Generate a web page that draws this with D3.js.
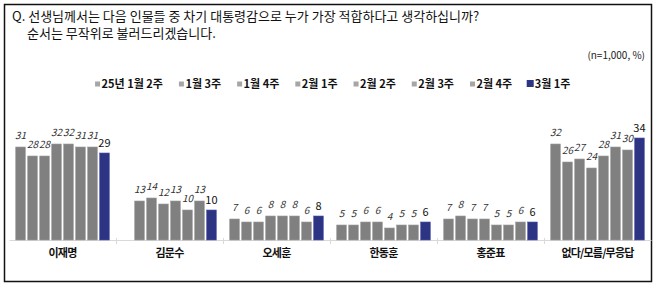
<!DOCTYPE html>
<html>
<head>
<meta charset="utf-8">
<script src="https://cdn.jsdelivr.net/npm/d3@7"></script>
<style>
  body { margin: 0; background: #fff; }
  svg { font-family: "Noto Sans CJK KR", "Noto Sans", sans-serif; }
</style>
</head>
<body>
<div id="chart"></div>
<script>
var categories = ["이재명", "김문수", "오세훈", "한동훈", "홍준표", "없다/모름/무응답"];
var series = ["25년 1월 2주", "1월 3주", "1월 4주", "2월 1주", "2월 2주", "2월 3주", "2월 4주", "3월 1주"];
var values = [
    [31, 28, 28, 32, 32, 31, 31, 29],
    [null, 13, 14, 12, 13, 10, 13, 10],
    [7, 6, 6, 8, 8, 8, 6, 8],
    [5, 5, 6, 6, 4, 5, 5, 6],
    [7, 8, 7, 7, 5, 5, 6, 6],
    [32, 26, 27, 24, 28, 31, 30, 34]
];
var titleLines = ["Q. 선생님께서는 다음 인물들 중 차기 대통령감으로 누가 가장 적합하다고 생각하십니까?", "순서는 무작위로 불러드리겠습니다."];
var note = "(n=1,000,  %)";

var width = 658;
var height = 288;
var grey = "#808080";
var blue = "#2d3484";

var svg = d3.select("#chart")
    .append("svg")
    .attr("width", width)
    .attr("height", height);

// frame
svg.append("rect")
    .attr("x", 4.5).attr("y", 4.5)
    .attr("width", 647).attr("height", 277)
    .attr("fill", "none")
    .attr("stroke", "#111")
    .attr("stroke-width", 1.5);

svg.append("text")
    .attr("x", 12).attr("y", 20.5)
    .attr("font-size", 13)
    .attr("fill", "#111")
    .text(titleLines[0]);

svg.append("text")
    .attr("x", 27).attr("y", 38)
    .attr("font-size", 13)
    .attr("fill", "#111")
    .text(titleLines[1]);

svg.append("text")
    .attr("x", 645).attr("y", 59)
    .attr("text-anchor", "end")
    .attr("font-size", 10)
    .attr("fill", "#222")
    .text(note);

var x = d3.scaleBand()
    .domain(categories)
    .range([9, 651]);

var xs = d3.scaleBand()
    .domain(series)
    .range([0, x.bandwidth()])
    .paddingInner(0.2)
    .paddingOuter(0.56);

var y = d3.scaleLinear()
    .domain([0, 35])
    .range([240, 135]);

// axis
var axis = svg.append("g")
    .attr("transform", "translate(0,240)")
    .call(d3.axisBottom(x).tickSize(0).tickFormat(""));
axis.select(".domain").attr("stroke", "#d9d9d9");

svg.append("g")
    .selectAll("line")
    .data(categories.slice(1))
    .join("line")
    .attr("x1", d => x(d) + 0.5)
    .attr("x2", d => x(d) + 0.5)
    .attr("y1", 238)
    .attr("y2", 244)
    .attr("stroke", "#d9d9d9");

svg.append("g")
    .selectAll("text")
    .data(categories)
    .join("text")
    .attr("x", d => x(d) + x.bandwidth() / 2)
    .attr("y", 256.5)
    .attr("text-anchor", "middle")
    .attr("font-size", 11)
    .attr("letter-spacing", -0.8)
    .attr("font-weight", "bold")
    .attr("fill", "#111")
    .text(d => d);

var cells = [];
categories.forEach((c, i) => {
    series.forEach((s, j) => {
        if (values[i][j] != null) cells.push({ cat: c, ser: s, value: values[i][j], last: j === series.length - 1 });
    });
});

var bars = svg.append("g");
bars.selectAll("rect")
    .data(cells)
    .join("rect")
    .attr("x", d => x(d.cat) + xs(d.ser))
    .attr("y", d => y(d.value))
    .attr("width", xs.bandwidth())
    .attr("height", d => y(0) - y(d.value))
    .attr("fill", d => d.last ? blue : grey)
    .attr("stroke", d => d.last ? "#4c55a8" : "#9a9a9a")
    .attr("stroke-width", 0.6);

bars.selectAll("text")
    .data(cells)
    .join("text")
    .attr("x", d => x(d.cat) + xs(d.ser) + xs.bandwidth() / 2)
    .attr("y", d => y(d.value) - (d.last ? 6 : 8))
    .attr("text-anchor", "middle")
    .attr("font-size", d => d.last ? 11 : 10)
    .attr("font-style", d => d.last ? "normal" : "italic")
    .attr("fill", d => d.last ? "#111" : "#333")
    .text(d => d.value);

// legend
var legend = svg.append("g").attr("transform", "translate(0,84)");
var items = legend.selectAll("g")
    .data(series)
    .join("g");
items.append("text")
    .attr("x", 8)
    .attr("dy", "0.35em")
    .attr("font-size", 11)
    .attr("font-weight", "bold")
    .attr("fill", "#111")
    .text(d => d);
items.append("rect")
    .attr("x", (d, i) => i === series.length - 1 ? 0 : 1.5)
    .attr("y", (d, i) => i === series.length - 1 ? -4 : -2.5)
    .attr("width", (d, i) => i === series.length - 1 ? 7 : 5)
    .attr("height", (d, i) => i === series.length - 1 ? 7 : 5)
    .attr("fill", (d, i) => i === series.length - 1 ? blue : "#a6a6a6");

var offs = [];
var cur = 0;
items.each(function () {
    offs.push(cur);
    cur += this.getBBox().width + 16;
});
var total = cur - 16;
var start = 332 - total / 2;
items.attr("transform", (d, i) => `translate(${start + offs[i]},0)`);
</script>
</body>
</html>
